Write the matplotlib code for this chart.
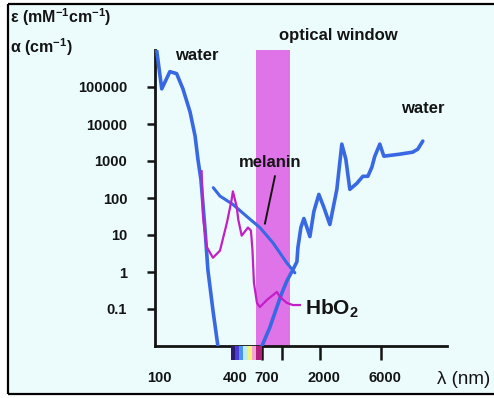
import numpy as np
import matplotlib
matplotlib.use("Agg")
import matplotlib.pyplot as plt
from matplotlib.patches import Rectangle
from matplotlib.lines import Line2D
import matplotlib.transforms as mtransforms

plt.rcParams['font.family'] = ['Liberation Sans', 'DejaVu Sans']
plt.rcParams['mathtext.fontset'] = 'custom'
plt.rcParams['mathtext.rm'] = 'Liberation Sans'
plt.rcParams['mathtext.bf'] = 'Liberation Sans:bold'
plt.rcParams['mathtext.default'] = 'bf'

# --- absorption spectra (wavelength in nm, coefficient) ---
water_uv_nm = [103, 113, 131, 148, 166, 189, 207, 218, 230, 248, 261, 286, 313]
water_uv_abs = [1.0e6, 8.9e4, 2.6e5, 2.3e5, 8.9e4, 2.1e4, 4.7e3, 1.1e3, 316, 14, 1.15, 0.094, 0.01]

water_ir_nm = [696, 804, 913, 1000, 1095, 1220, 1313, 1337, 1411, 1490, 1574, 1662,
               1786, 1955, 2143, 2387, 2710, 2966, 3190, 3430, 3896, 4344, 4757,
               5114, 5397, 5913, 6357, 8494, 10750, 11770, 12890]
water_ir_abs = [0.01, 0.032, 0.113, 0.272, 0.577, 1.15, 1.89, 4.55, 15.9, 27.9, 15.9, 9.06,
                43.2, 125, 55.5, 19.2, 171, 2860, 1120, 171, 249, 386, 386,
                679, 1349, 2860, 1349, 1530, 1735, 2090, 3450]

melanin_nm = [288, 325, 411, 527, 671, 849, 1090, 1265]
melanin_abs = [190, 113, 67, 32, 15.9, 6.2, 1.78, 0.95]

hbo2_nm = [233, 239, 255, 286, 325, 369, 402, 411, 440, 453, 482, 511, 540, 570,
           586, 602, 636, 671, 762, 914, 965, 1094, 1220, 1386]
hbo2_abs = [528, 31.6, 4.84, 2.43, 3.77, 21.7, 91.6, 151, 59, 26.2, 9.6, 12.4, 15.9, 13.2,
            4.0, 0.51, 0.146, 0.113, 0.176, 0.29, 0.212, 0.146, 0.128, 0.128]

window_nm = (625, 1150)

ytick_vals = [0.1, 1, 10, 100, 1000, 10000, 100000]
ytick_text = ['0.1', '1', '10', '100', '1000', '10000', '100000']
xlabel_vals = [100, 400, 700, 2000, 6000]
xlabel_text = ['100', '400', '700', '2000', '6000']
xtick_marks = [700, 1000, 2000, 6000]

spectrum_edges = [400, 430, 460, 495, 540, 580, 630, 700]
spectrum_colors = ['#2b1a70', '#4b3bd2', '#4a93f0', '#bdeef5', '#f2f27c', '#f3a3d4', '#b3207c']

BLUE = '#3868e2'
MAGENTA = '#c41ec6'
BG = '#ecfcfd'
INK = '#141414'

W, H = 494, 398
fig = plt.figure(figsize=(W / 100, H / 100), dpi=100, facecolor='white')

# panel background and frame (open on the right)
fig.patches.append(Rectangle((8 / W, 4 / H), 1 - 8 / W, 1 - 8 / H, transform=fig.transFigure,
                             facecolor=BG, edgecolor='none', zorder=-10))
for xs, ys in [([8 / W, 1], [1 - 4 / H, 1 - 4 / H]),
               ([8 / W, 1], [4 / H, 4 / H]),
               ([8 / W, 8 / W], [4 / H, 1 - 4 / H])]:
    fig.lines.append(Line2D(xs, ys, transform=fig.transFigure, color='black', lw=1.6,
                            solid_capstyle='butt'))

ax = fig.add_axes([155 / W, 1 - 346 / H, (447 - 155) / W, (346 - 50) / H])
ax.set_facecolor('none')
ax.set_xscale('log')
ax.set_yscale('log')
ax.set_xlim(100, 20000)
ax.set_ylim(0.01, 1e6)

for s in ['top', 'right']:
    ax.spines[s].set_visible(False)
for s in ['left', 'bottom']:
    ax.spines[s].set_linewidth(2)
    ax.spines[s].set_color(INK)

# optical window band
ax.axvspan(window_nm[0], window_nm[1], color='#df74e8', zorder=1, lw=0)

# curves
ax.plot(water_uv_nm, water_uv_abs, color=BLUE, lw=2.6, zorder=3, solid_capstyle='round')
ax.plot(water_ir_nm, water_ir_abs, color=BLUE, lw=2.6, zorder=3, solid_capstyle='round')
ax.plot(melanin_nm, melanin_abs, color=BLUE, lw=2.2, zorder=3, solid_capstyle='round')
ax.plot(hbo2_nm, hbo2_abs, color=MAGENTA, lw=1.6, zorder=4)

# ticks
ax.set_yticks(ytick_vals, ytick_text)
ax.yaxis.set_minor_locator(matplotlib.ticker.NullLocator())
ax.tick_params(axis='y', which='major', length=6, width=1.8, pad=14, labelsize=10.5,
               color=INK, labelcolor=INK)
for lab in ax.get_yticklabels():
    lab.set_fontweight('bold')

ax.set_xticks(xtick_marks, [''] * len(xtick_marks))
ax.xaxis.set_minor_locator(matplotlib.ticker.NullLocator())
ax.tick_params(axis='x', which='major', length=10, width=1.8, color=INK)

# visible spectrum strip under the axis
strip = mtransforms.blended_transform_factory(ax.transData, ax.transAxes)
for lo, hi, c in zip(spectrum_edges[:-1], spectrum_edges[1:], spectrum_colors):
    ax.add_patch(Rectangle((lo, -14 / 296), hi - lo, 14 / 296, transform=strip,
                           facecolor=c, edgecolor='none', clip_on=False, zorder=5))

# wavelength labels
shift = mtransforms.ScaledTranslation(4 / 100, 0, fig.dpi_scale_trans)
for v, t in zip(xlabel_vals, xlabel_text):
    ax.text(v, -32 / 296, t, transform=strip + shift, ha='center', va='center',
            fontsize=10.5, fontweight='bold', color=INK)

# annotations
ax.text(214, 7e5, 'water', ha='center', va='center', fontsize=12, fontweight='bold',
        color=INK, clip_on=False)
ax.text(2760, 2.4e6, 'optical window', ha='center', va='center', fontsize=12,
        fontweight='bold', color=INK, clip_on=False)
ax.text(12900, 25700, 'water', ha='center', va='center', fontsize=12, fontweight='bold',
        color=INK)
ax.text(805, 927, 'melanin', ha='center', va='center', fontsize=12, fontweight='bold',
        color=INK)
ax.plot([881, 735], [386, 20.4], color=INK, lw=1.4, zorder=5)
ax.text(1518, 0.1, 'HbO$_2$', ha='left', va='center', fontsize=15, fontweight='bold',
        color=INK)

fig.text(10 / W, 1 - 17 / H, 'ε (mM$^{-1}$cm$^{-1}$)', ha='left', va='center',
         fontsize=11.5, fontweight='bold', color=INK)
fig.text(10 / W, 1 - 47 / H, 'α (cm$^{-1}$)', ha='left', va='center',
         fontsize=11.5, fontweight='bold', color=INK)
fig.text(437 / W, 1 - 380 / H, 'λ (nm)', ha='left', va='center', fontsize=13.5,
         color=INK)

fig.savefig('out.png', dpi=100, facecolor='white')
